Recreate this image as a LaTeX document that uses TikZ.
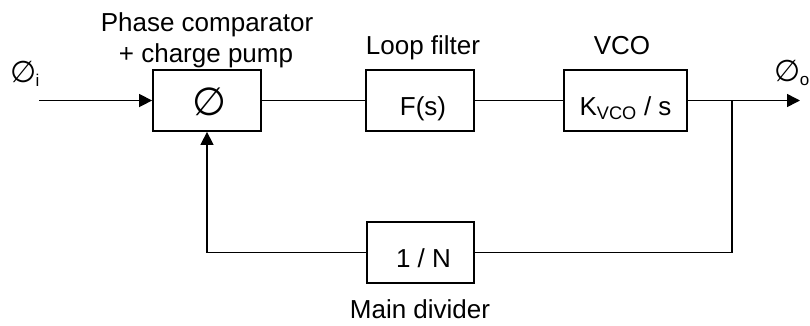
\documentclass[tikz,border=0pt]{standalone}
\usepackage{fontspec}
\setmainfont{Liberation Sans}
\newfontfamily\symfont{DejaVu Sans}
\usetikzlibrary{arrows.meta}
\newcommand{\subtxt}[1]{\raisebox{-4pt}{\fontspec{Liberation Sans}\fontsize{17}{20}\selectfont #1}}
\begin{document}
\begin{tikzpicture}[x=1pt,y=-1pt,
  blockbox/.style={draw,line width=1.8pt,inner sep=0pt,text height=29pt,text depth=0pt},
  lbl/.style={anchor=base,inner sep=0pt,font=\fontsize{26}{30}\selectfont},
  conn/.style={line width=1.5pt},
  arr/.style={conn,-{Triangle[length=13pt,width=13pt]}}]
\useasboundingbox (0,0) rectangle (810,325);
\node[blockbox,minimum width=108pt,minimum height=61pt,font=\symfont\fontsize{39}{42}\selectfont,text height=30pt] (phase) at (207,100.5) {\hspace{4pt}∅};
\node[blockbox,minimum width=108pt,minimum height=61pt,font=\fontsize{26}{30}\selectfont] (filt) at (420,100.5) {\hspace{6pt}F(s)};
\node[blockbox,minimum width=123pt,minimum height=61pt,font=\fontsize{26}{30}\selectfont] (vco) at (625.5,100.5) {K\textsubscript{VCO} / s};
\node[blockbox,minimum width=107pt,minimum height=61pt,font=\fontsize{26}{30}\selectfont] (div) at (420.5,252.5) {\hspace{6pt}1 / N};
\node[lbl] (lphase1) at (207,31) {Phase comparator};
\node[lbl] (lphase2) at (206,62) {+ charge pump};
\node[lbl] (lfilt) at (423,54) {Loop filter};
\node[lbl] (lvco) at (622,54) {VCO};
\node[lbl] (ldiv) at (420,318) {Main divider};
\node[lbl,font=\symfont\fontsize{30}{34}\selectfont] (lin) at (25,82) {∅\hspace{-1pt}\subtxt{i}};
\node[lbl,font=\symfont\fontsize{30}{34}\selectfont] (lout) at (792,81) {∅\hspace{-1pt}\subtxt{o}};
\coordinate (in) at (39,100.5);
\coordinate (out) at (800,100.5);
\coordinate (tap) at (732,100.5);
\draw[arr] (in) -- (phase.west);
\draw[conn] (phase.east) -- (filt.west);
\draw[conn] (filt.east) -- (vco.west);
\draw[arr] (vco.east) -- (out);
\draw[conn] (tap) |- (div.east);
\draw[arr] (div.west) -| (phase.south);
\end{tikzpicture}
\end{document}
